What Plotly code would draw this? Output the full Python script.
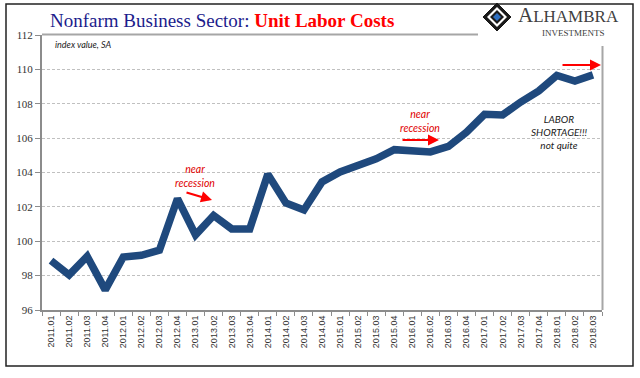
import plotly.graph_objects as go

quarters = ["2011.01", "2011.02", "2011.03", "2011.04",
            "2012.01", "2012.02", "2012.03", "2012.04",
            "2013.01", "2013.02", "2013.03", "2013.04",
            "2014.01", "2014.02", "2014.03", "2014.04",
            "2015.01", "2015.02", "2015.03", "2015.04",
            "2016.01", "2016.02", "2016.03", "2016.04",
            "2017.01", "2017.02", "2017.03", "2017.04",
            "2018.01", "2018.02", "2018.03"]
unit_labor_costs = [98.87, 98.04, 99.12, 97.17,
                    99.08, 99.18, 99.48, 102.48,
                    100.37, 101.5, 100.72, 100.72,
                    103.9, 102.23, 101.82, 103.45,
                    104.03, 104.42, 104.8, 105.33,
                    105.28, 105.2, 105.52, 106.35,
                    107.39, 107.35, 108.1, 108.75,
                    109.65, 109.32, 109.68]
y_ticks = [96, 98, 100, 102, 104, 106, 108, 110, 112]

W, H = 640, 378
L, R, T, B = 42, 602, 35, 310


def px(x):
    return (x - L) / (R - L)


def py(y):
    return (B - y) / (B - T)


fig = go.Figure()
fig.add_trace(go.Scatter(
    x=quarters, y=unit_labor_costs, mode="lines",
    line=dict(color="#1f497d", width=7.5), hoverinfo="skip",
))

red = "#ff0000"
ann = []
# title
ann.append(dict(
    x=px(48), y=py(20), xref="paper", yref="paper", xanchor="left", yanchor="middle",
    text="<span style='color:#1c1c8c'>Nonfarm Business Sector: </span>"
         "<b><span style='color:#ff0000'>Unit Labor Costs</span></b>",
    showarrow=False, font=dict(family="Liberation Serif", size=19)))
ann.append(dict(
    x=px(53), y=py(44), xref="paper", yref="paper", xanchor="left", yanchor="middle",
    text="<i>index value, SA</i>", showarrow=False,
    font=dict(family="Lato", size=9, color="#222222")))
# near recession 1
ann.append(dict(
    x=px(195), y=py(176), xref="paper", yref="paper", xanchor="center", yanchor="middle",
    text="<i>near<br>recession</i>", showarrow=False,
    font=dict(family="Lato", size=10.5, color="#e00000")))
ann.append(dict(
    x=px(212), y=py(200), xref="paper", yref="paper", text="", showarrow=True,
    ax=-27, ay=-8, arrowhead=2, arrowsize=1, arrowwidth=2.2, arrowcolor=red))
# near recession 2
ann.append(dict(
    x=px(420), y=py(121), xref="paper", yref="paper", xanchor="center", yanchor="middle",
    text="<i>near<br>recession</i>", showarrow=False,
    font=dict(family="Lato", size=10.5, color="#e00000")))
ann.append(dict(
    x=px(439), y=py(140), xref="paper", yref="paper", text="", showarrow=True,
    ax=-38, ay=0, arrowhead=2, arrowsize=1, arrowwidth=2.2, arrowcolor=red))
# arrow 3
ann.append(dict(
    x=px(601), y=py(65), xref="paper", yref="paper", text="", showarrow=True,
    ax=-40, ay=0, arrowhead=2, arrowsize=1, arrowwidth=2.2, arrowcolor=red))
# labor shortage
ann.append(dict(
    x=px(559), y=py(132), xref="paper", yref="paper", xanchor="center", yanchor="middle",
    text="<i>LABOR<br>SHORTAGE!!!<br>not quite</i>", showarrow=False,
    font=dict(family="Lato", size=10, color="#1a1a1a")))
# logo text
ann.append(dict(
    x=px(516), y=py(15), xref="paper", yref="paper", xanchor="left", yanchor="middle",
    text="A<span style='font-size:17px'>LHAMBRA</span>", showarrow=False,
    font=dict(family="Liberation Serif", size=21, color="#404040")))
ann.append(dict(
    x=px(573), y=py(33), xref="paper", yref="paper", xanchor="center", yanchor="middle",
    text="INVESTMENTS", showarrow=False,
    font=dict(family="Liberation Serif", size=9, color="#404040")))

shapes = []
# outer border
shapes.append(dict(type="rect", xref="paper", yref="paper",
                   x0=px(6), x1=px(633), y0=py(366), y1=py(4),
                   line=dict(color="#222222", width=1.5), layer="below"))
# top frame line (gap for logo)
shapes.append(dict(type="line", xref="paper", yref="paper",
                   x0=px(42), x1=px(478), y0=py(34.5), y1=py(34.5),
                   line=dict(color="#a6a6a6", width=2)))
# right frame line
shapes.append(dict(type="line", xref="paper", yref="paper",
                   x0=px(602.5), x1=px(602.5), y0=py(310), y1=py(46),
                   line=dict(color="#a6a6a6", width=2)))
# logo diamond
cx, cy, s = 497, 17, 14


def diamond(c_x, c_y, r):
    return (f"M {px(c_x)} {py(c_y - r)} L {px(c_x + r)} {py(c_y)} "
            f"L {px(c_x)} {py(c_y + r)} L {px(c_x - r)} {py(c_y)} Z")


shapes.append(dict(type="path", xref="paper", yref="paper", path=diamond(cx, cy, s),
                   fillcolor="#1a1a1a", line=dict(color="#1a1a1a", width=1)))
shapes.append(dict(type="path", xref="paper", yref="paper", path=diamond(cx, cy, 10),
                   fillcolor="white", line=dict(color="white", width=0)))
shapes.append(dict(type="path", xref="paper", yref="paper", path=diamond(cx, cy, 7),
                   fillcolor="#1a1a1a", line=dict(color="#1a1a1a", width=0)))
shapes.append(dict(type="path", xref="paper", yref="paper", path=diamond(cx, cy, 4),
                   fillcolor="#2e6fc0", line=dict(color="#2e6fc0", width=0)))

fig.update_layout(
    width=W, height=H,
    margin=dict(l=L, r=W - R, t=T, b=H - B),
    paper_bgcolor="white", plot_bgcolor="white",
    showlegend=False,
    annotations=ann, shapes=shapes,
    xaxis=dict(
        type="category", range=[-0.5, 30.5],
        showline=True, linecolor="#8c8c8c", linewidth=2,
        ticks="outside", tickson="boundaries", ticklen=4, tickcolor="#8c8c8c",
        tickangle=-90, showgrid=False,
        tickfont=dict(family="Liberation Sans", size=9, color="#333333"),
    ),
    yaxis=dict(
        range=[96, 112], tickvals=y_ticks,
        showline=True, linecolor="#8c8c8c", linewidth=2,
        ticks="outside", ticklen=5, tickcolor="#8c8c8c",
        showgrid=True, gridcolor="#c0c0c0", gridwidth=1, griddash="3px,2px",
        zeroline=False,
        tickfont=dict(family="Liberation Serif", size=11, color="#333333"),
    ),
)

fig.write_html("out.html", config={"displayModeBar": False},
               post_script="document.body.style.margin='0';document.body.style.padding='0';")
